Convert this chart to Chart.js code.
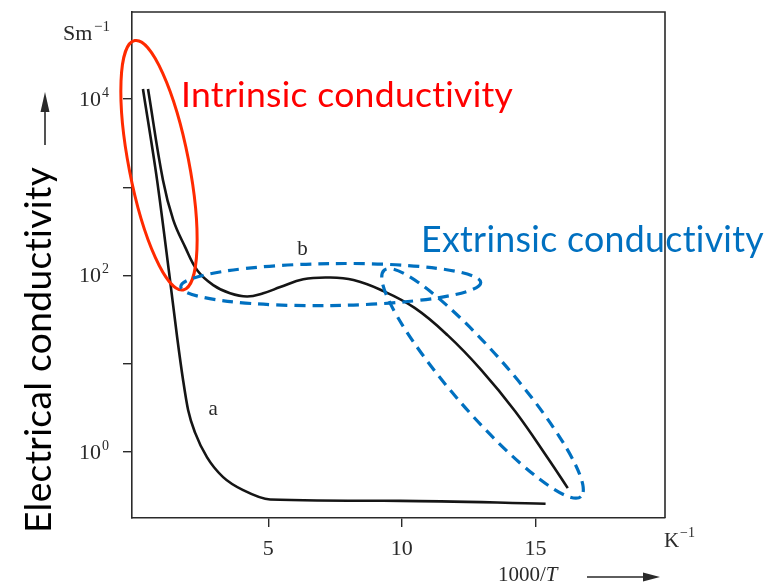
<!DOCTYPE html>
<html>
<head>
<meta charset="utf-8">
<script src="https://cdn.jsdelivr.net/npm/chart.js@4.4.0/dist/chart.umd.min.js"></script>
<style>
html, body { margin: 0; padding: 0; background: #fff; }
canvas { display: block; }
</style>
</head>
<body>
<canvas id="c" width="778" height="587"></canvas>
<script>
// curve a: 1000/T (K^-1) and conductivity (S/m)
var aX = [0.31, 0.84, 1.29, 1.59, 1.81, 2.00, 2.26, 2.71, 3.31, 4.06, 5.07, 9.95, 15.38];
var aY = [13000, 1200, 107, 20, 6.6, 3.0, 1.66, 0.87, 0.52, 0.37, 0.29, 0.28, 0.26];
// curve b
var bX = [0.50, 1.06, 1.44, 1.89, 2.34, 2.94, 3.57, 4.21, 4.81, 5.45, 6.31, 7.32, 8.19, 9.20, 10.48, 11.72, 12.96, 14.24, 15.48, 16.21];
var bY = [13000, 1200, 430, 210, 115, 78, 63, 58, 63, 74, 91, 95, 89, 69, 43, 21, 8.6, 2.9, 0.84, 0.39];
// ticks
var xTicks = [5, 10, 15];
var yTicks = [1, 10, 100, 1000, 10000];
var yTickExp = { 1: '0', 100: '2', 10000: '4' };

var INK = '#2a2a2a';
var RED = '#ff2a00';
var BLUE = '#0070c0';
var SERIF = '"Liberation Serif", "DejaVu Serif", serif';
var SANS = 'Lato, "Open Sans", sans-serif';

function toPoints(xs, ys) {
    return xs.map(function(x, i) { return { x: x, y: ys[i] }; });
}

// size a font so that text fills a given width
function fitFont(ctx, text, width, family) {
    ctx.font = '100px ' + family;
    return 100 * width / ctx.measureText(text).width;
}

function arrowHead(ctx, x, y, dir) {
    // dir: 'up' or 'right', (x,y) is the tip
    ctx.beginPath();
    if (dir == 'up') {
        ctx.moveTo(x, y);
        ctx.lineTo(x - 4.5, y + 20);
        ctx.lineTo(x + 4.5, y + 20);
    } else {
        ctx.moveTo(x, y);
        ctx.lineTo(x - 17, y - 4.5);
        ctx.lineTo(x - 17, y + 4.5);
    }
    ctx.closePath();
    ctx.fill();
}

var annotations = {
    id: 'annotations',
    beforeDatasetsDraw: function(chart) {
        var ctx = chart.ctx, a = chart.chartArea;
        ctx.save();
        ctx.strokeStyle = INK;
        ctx.lineWidth = 1.6;
        ctx.beginPath();
        ctx.moveTo(a.left, a.top);
        ctx.lineTo(a.right, a.top);
        ctx.lineTo(a.right, a.bottom);
        ctx.stroke();
        ctx.restore();
    },
    afterDatasetsDraw: function(chart) {
        var ctx = chart.ctx;
        var xs = chart.scales.x, ys = chart.scales.y;
        ctx.save();

        // y tick labels 10^n
        ctx.fillStyle = INK;
        ctx.textBaseline = 'middle';
        for (var v in yTickExp) {
            var py = ys.getPixelForValue(Number(v));
            ctx.font = '22px ' + SERIF;
            ctx.textAlign = 'right';
            ctx.fillText('10', 101, py + 1);
            ctx.font = '14px ' + SERIF;
            ctx.textAlign = 'left';
            ctx.fillText(yTickExp[v], 102, py - 6);
        }

        // unit labels
        ctx.textAlign = 'left';
        ctx.font = '22px ' + SERIF;
        ctx.fillText('Sm', 63, 34);
        ctx.font = '15px ' + SERIF;
        ctx.fillText('\u22121', 94, 27);
        ctx.font = '21px ' + SERIF;
        ctx.fillText('K', 664, 541);
        ctx.font = '14px ' + SERIF;
        ctx.fillText('\u22121', 680, 533);

        ctx.font = '21px ' + SERIF;
        ctx.fillText('1000/', 498, 575);
        var w = ctx.measureText('1000/').width;
        ctx.font = 'italic 21px ' + SERIF;
        ctx.fillText('T', 498 + w, 575);

        // axis arrows
        ctx.strokeStyle = INK;
        ctx.lineWidth = 1.6;
        ctx.beginPath();
        ctx.moveTo(587, 577);
        ctx.lineTo(648, 577);
        ctx.moveTo(45, 145);
        ctx.lineTo(45, 108);
        ctx.stroke();
        arrowHead(ctx, 660, 577, 'right');
        arrowHead(ctx, 45, 92, 'up');

        // curve names
        ctx.font = '21px ' + SERIF;
        ctx.textAlign = 'center';
        ctx.fillText('a', xs.getPixelForValue(2.94), ys.getPixelForValue(3.0));
        ctx.fillText('b', xs.getPixelForValue(6.28), ys.getPixelForValue(195));

        // ellipses
        ctx.lineWidth = 3;
        ctx.strokeStyle = RED;
        ctx.setLineDash([]);
        ctx.beginPath();
        ctx.ellipse(xs.getPixelForValue(0.91), ys.getPixelForValue(1778), 127, 30, 79 * Math.PI / 180, 0, 2 * Math.PI);
        ctx.stroke();

        ctx.strokeStyle = BLUE;
        ctx.lineWidth = 3.2;
        ctx.setLineDash([11, 7]);
        ctx.beginPath();
        ctx.ellipse(xs.getPixelForValue(7.34), ys.getPixelForValue(79), 150, 21, -0.8 * Math.PI / 180, 0, 2 * Math.PI);
        ctx.stroke();
        ctx.beginPath();
        ctx.ellipse(xs.getPixelForValue(13.02), ys.getPixelForValue(6.0), 150, 29, 49 * Math.PI / 180, 0, 2 * Math.PI);
        ctx.stroke();
        ctx.setLineDash([]);

        // annotation texts (letter spacing keeps Lato from using ligatures)
        ctx.letterSpacing = '0.3px';
        ctx.textAlign = 'left';
        ctx.textBaseline = 'alphabetic';
        var t1 = 'Intrinsic conductivity';
        ctx.font = fitFont(ctx, t1, 328, SANS) + 'px ' + SANS;
        ctx.fillStyle = '#ff0000';
        ctx.fillText(t1, 181, 107);

        var t2 = 'Extrinsic conductivity';
        ctx.font = fitFont(ctx, t2, 339, SANS) + 'px ' + SANS;
        ctx.fillStyle = BLUE;
        ctx.fillText(t2, 421, 252);

        var t3 = 'Electrical conductivity';
        ctx.font = fitFont(ctx, t3, 362, SANS) + 'px ' + SANS;
        ctx.fillStyle = '#000';
        ctx.translate(51, 533);
        ctx.rotate(-Math.PI / 2);
        ctx.fillText(t3, 0, 0);

        ctx.restore();
    }
};

var gridOpts = { drawOnChartArea: false, drawTicks: true, tickLength: 9, color: INK, lineWidth: 1.4 };
var borderOpts = { display: true, color: INK, width: 1.6 };

var chart = new Chart(document.getElementById('c'), {
    type: 'line',
    data: {
        datasets: [
            {
                label: 'a',
                data: toPoints(aX, aY),
                borderColor: '#151515',
                borderWidth: 2.6,
                pointRadius: 0,
                fill: false,
                cubicInterpolationMode: 'monotone'
            },
            {
                label: 'b',
                data: toPoints(bX, bY),
                borderColor: '#151515',
                borderWidth: 2.6,
                pointRadius: 0,
                fill: false,
                tension: 0.4
            }
        ]
    },
    options: {
        responsive: false,
        animation: false,
        layout: { padding: { left: 0, top: 12, right: 113, bottom: 0 } },
        plugins: { legend: { display: false }, tooltip: { enabled: false } },
        scales: {
            x: {
                type: 'linear',
                min: -0.1,
                max: 19.85,
                afterBuildTicks: function(s) { s.ticks = xTicks.map(function(v) { return { value: v }; }); },
                afterFit: function(s) { s.height = 69; },
                grid: gridOpts,
                border: borderOpts,
                ticks: { font: { family: SERIF, size: 22 }, color: INK, padding: 9, maxRotation: 0 }
            },
            y: {
                type: 'logarithmic',
                min: 0.179,
                max: 96900,
                afterBuildTicks: function(s) { s.ticks = yTicks.map(function(v) { return { value: v }; }); },
                afterFit: function(s) { s.width = 132; },
                grid: gridOpts,
                border: borderOpts,
                ticks: { display: false }
            }
        }
    },
    plugins: [annotations]
});
</script>
</body>
</html>
